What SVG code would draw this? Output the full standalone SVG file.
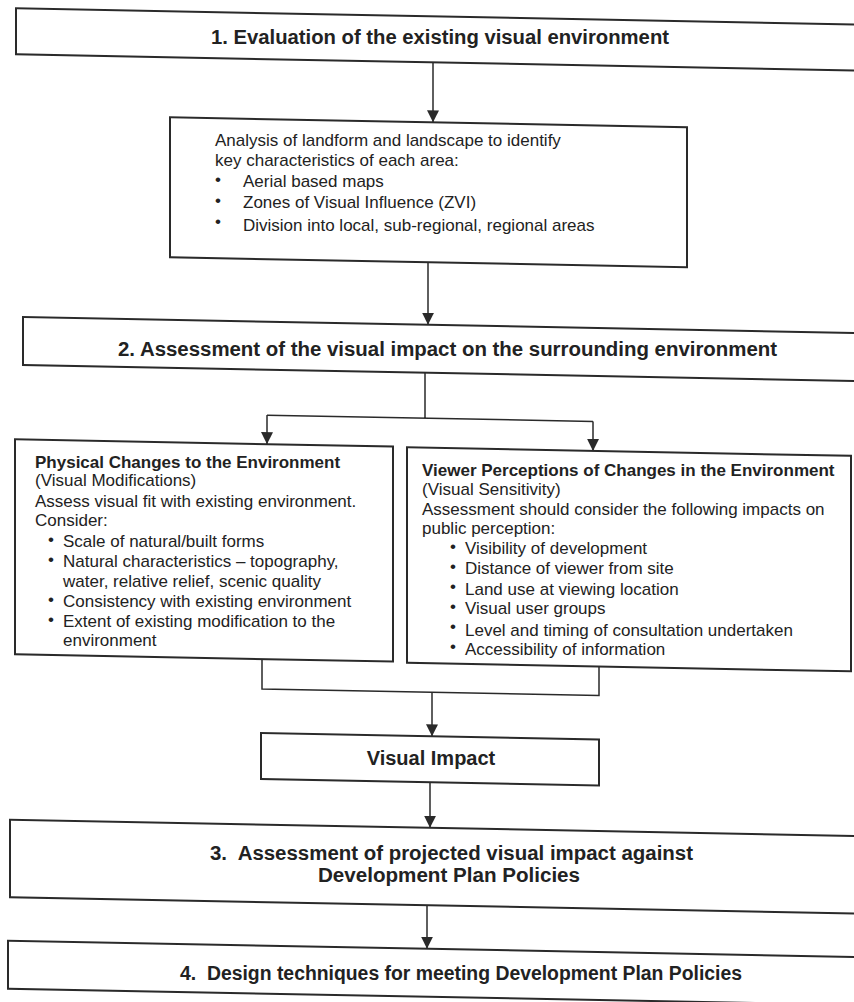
<svg xmlns="http://www.w3.org/2000/svg" width="854" height="1002" viewBox="0 0 854 1002">
<defs>
<style>
.box{fill:#fff;stroke:#2a2a2a;stroke-width:2}
.con{fill:none;stroke:#2a2a2a;stroke-width:1.5}
.h{font-family:"Liberation Sans",Arial,sans-serif;font-weight:bold;font-size:20px;fill:#222;text-anchor:middle}
.t{font-family:"Liberation Sans",Arial,sans-serif;font-size:17px;fill:#222}
.b{font-weight:bold}
</style>
<marker id="ah" markerUnits="userSpaceOnUse" markerWidth="12" markerHeight="12" refX="12" refY="6" orient="auto"><path d="M0,0 L12,6 L0,12 z" fill="#2a2a2a"/></marker>
</defs>
<rect width="854" height="1002" fill="#fff"/>
<g id="connectors" transform="skewY(1.1)">
<path class="con" d="M433,54 V114" marker-end="url(#ah)"/>
<path class="con" d="M428,254 V316.5" marker-end="url(#ah)"/>
<path class="con" d="M425,364.5 V410 M267,410 H593"/>
<path class="con" d="M267,410 V439" marker-end="url(#ah)"/>
<path class="con" d="M593,410 V439.5" marker-end="url(#ah)"/>
<path class="con" d="M262,654 V684 H599 V655"/>
<path class="con" d="M432,684 V728" marker-end="url(#ah)"/>
<path class="con" d="M430,774 V819.5" marker-end="url(#ah)"/>
<path class="con" d="M427,897 V940.5" marker-end="url(#ah)"/>
</g>
<g id="step1">
<rect class="box" transform="skewY(1.1)" x="16" y="8" width="860" height="46"/>
<text class="h" x="440" y="44.4" textLength="458" lengthAdjust="spacingAndGlyphs">1. Evaluation of the existing visual environment</text>
</g>
<g id="analysis">
<rect class="box" transform="skewY(1.1)" x="170" y="114" width="517" height="140"/>
<text class="t" x="215" y="146">Analysis of landform and landscape to identify</text>
<text class="t" x="215" y="166">key characteristics of each area:</text>
<text class="t" x="215" y="184.7">•</text><text class="t" x="243" y="186.5">Aerial based maps</text>
<text class="t" x="215" y="205.7">•</text><text class="t" x="243" y="208.4">Zones of Visual Influence (ZVI)</text>
<text class="t" x="215" y="226.7">•</text><text class="t" x="243" y="230.5">Division into local, sub-regional, regional areas</text>
</g>
<g id="step2">
<rect class="box" transform="skewY(1.1)" x="23" y="316.5" width="850" height="48"/>
<text class="h" x="447.5" y="355.6" textLength="659" lengthAdjust="spacingAndGlyphs">2. Assessment of the visual impact on the surrounding environment</text>
</g>
<g id="physical">
<rect class="box" transform="skewY(1.1)" x="15" y="439" width="378" height="215"/>
<text class="t b" x="35" y="467.6">Physical Changes to the Environment</text>
<text class="t" x="35" y="486.2">(Visual Modifications)</text>
<text class="t" x="35" y="506.7">Assess visual fit with existing environment.</text>
<text class="t" x="35" y="525.9">Consider:</text>
<text class="t" x="48" y="544.5">•</text><text class="t" x="63" y="546.6">Scale of natural/built forms</text>
<text class="t" x="48" y="564.5">•</text><text class="t" x="63" y="567.4">Natural characteristics – topography,</text>
<text class="t" x="63" y="587.2">water, relative relief, scenic quality</text>
<text class="t" x="48" y="604.5">•</text><text class="t" x="63" y="607.4">Consistency with existing environment</text>
<text class="t" x="48" y="624.5">•</text><text class="t" x="63" y="627.3">Extent of existing modification to the</text>
<text class="t" x="63" y="646">environment</text>
</g>
<g id="viewer">
<rect class="box" transform="skewY(1.1)" x="407" y="439.5" width="444" height="215.5"/>
<text class="t b" x="422" y="475.6">Viewer Perceptions of Changes in the Environment</text>
<text class="t" x="422" y="494.6">(Visual Sensitivity)</text>
<text class="t" x="422" y="514.8">Assessment should consider the following impacts on</text>
<text class="t" x="422" y="533.6">public perception:</text>
<text class="t" x="450" y="552.2">•</text><text class="t" x="465" y="554.2">Visibility of development</text>
<text class="t" x="450" y="572.2">•</text><text class="t" x="465" y="574.4">Distance of viewer from site</text>
<text class="t" x="450" y="592.2">•</text><text class="t" x="465" y="594.5">Land use at viewing location</text>
<text class="t" x="450" y="612.2">•</text><text class="t" x="465" y="614">Visual user groups</text>
<text class="t" x="450" y="632.2">•</text><text class="t" x="465" y="635.6">Level and timing of consultation undertaken</text>
<text class="t" x="450" y="652.2">•</text><text class="t" x="465" y="654.6">Accessibility of information</text>
</g>
<g id="visual-impact">
<rect class="box" transform="skewY(1.1)" x="261" y="728" width="338" height="46"/>
<text class="h" x="431" y="765.3">Visual Impact</text>
</g>
<g id="step3">
<rect class="box" transform="skewY(1.1)" x="10" y="819.5" width="866" height="77.5"/>
<text class="h" x="451.5" y="859.5" xml:space="preserve" textLength="483" lengthAdjust="spacingAndGlyphs">3.  Assessment of projected visual impact against</text>
<text class="h" x="449" y="882.2" textLength="262" lengthAdjust="spacingAndGlyphs">Development Plan Policies</text>
</g>
<g id="step4">
<rect class="box" transform="skewY(1.1)" x="8" y="940.5" width="868" height="48"/>
<text class="h" x="461" y="980.4" xml:space="preserve" textLength="562" lengthAdjust="spacingAndGlyphs">4.  Design techniques for meeting Development Plan Policies</text>
</g>
</svg>
